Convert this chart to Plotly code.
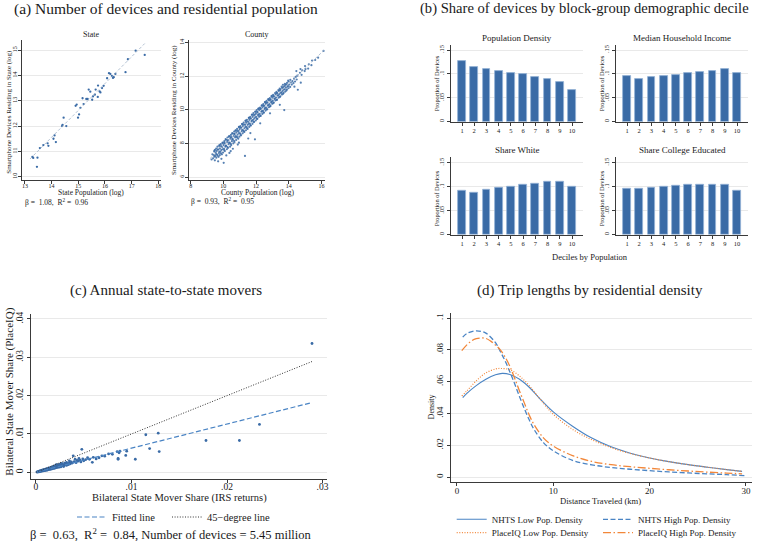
import plotly.graph_objects as go

W, H = 760, 541
SERIF = "Liberation Serif"
AXC = "#3a3a3a"
GRID = "#e9e9e9"
BLUE = "#3a6ba6"
LBLUE = "#4a84c4"
ORANGE = "#f2873a"
TXT = "#1a1a1a"

# ---------------- data ----------------
# (a) state: log population vs log devices
state_points = [
    (13.28, 10.78), (13.31, 10.74), (13.47, 10.75), (13.45, 10.39), (13.56, 11.13),
    (13.69, 11.25), (13.85, 11.32), (13.88, 11.22), (14.07, 11.50), (14.11, 11.63),
    (14.16, 11.37), (14.39, 12.00), (14.41, 12.05), (14.45, 12.33), (14.55, 12.00),
    (14.90, 12.80), (14.94, 12.85), (14.99, 12.33), (15.03, 12.46), (15.08, 12.72),
    (15.16, 13.10), (15.20, 12.87), (15.30, 13.07), (15.35, 13.07), (15.39, 13.44),
    (15.45, 13.36), (15.52, 13.04), (15.55, 13.17), (15.62, 13.24), (15.65, 13.44),
    (15.73, 13.15), (15.74, 13.60), (15.80, 13.37), (15.83, 13.33), (15.89, 13.50),
    (15.95, 13.59), (16.08, 13.89), (16.15, 14.09), (16.20, 14.06), (16.26, 13.98),
    (16.33, 13.93), (16.39, 14.06), (16.30, 13.90), (16.77, 14.13), (16.86, 14.64),
    (17.15, 14.98), (17.49, 14.81),
]
state_fit_x = [13.19, 17.49]
state_fit_y = [10.70, 15.26]

# (a) county: log population vs log devices
county_points = [
    (9.28, 7.05), (9.33, 7.36), (9.37, 7.12), (9.42, 7.31), (9.44, 7.53),
    (9.48, 7.00), (9.51, 7.26), (9.53, 7.46), (9.49, 7.63), (9.57, 7.16),
    (9.62, 7.34), (9.59, 7.56), (9.64, 7.81), (9.68, 6.94), (9.71, 7.21),
    (9.73, 7.43), (9.69, 7.63), (9.75, 7.86), (9.78, 7.31), (9.82, 7.51),
    (9.79, 7.71), (9.84, 7.96), (9.88, 7.09), (9.91, 7.36), (9.87, 7.61),
    (9.93, 7.79), (9.95, 8.06), (10.02, 6.85), (9.98, 7.46), (10.04, 7.69),
    (10.01, 7.91), (10.06, 8.14), (10.09, 7.55), (10.12, 7.81), (10.08, 8.01),
    (10.14, 8.26), (10.18, 7.29), (10.21, 7.66), (10.17, 7.86), (10.23, 8.09),
    (10.25, 8.36), (10.28, 7.74), (10.32, 7.96), (10.29, 8.19), (10.34, 8.41),
    (10.37, 7.44), (10.41, 7.81), (10.39, 8.04), (10.43, 8.29), (10.46, 8.51),
    (10.48, 7.91), (10.52, 8.14), (10.49, 8.37), (10.54, 8.61), (10.58, 7.69),
    (10.61, 8.01), (10.57, 8.26), (10.63, 8.44), (10.66, 8.71), (10.68, 8.09),
    (10.72, 8.36), (10.69, 8.56), (10.74, 8.77), (10.78, 8.21), (10.82, 8.41),
    (10.79, 8.66), (10.84, 8.87), (10.88, 7.94), (10.91, 8.29), (10.87, 8.53),
    (10.93, 8.74), (10.95, 8.99), (10.98, 8.41), (11.02, 8.61), (10.99, 8.86),
    (11.04, 9.04), (11.08, 8.49), (11.12, 8.73), (11.09, 8.94), (11.14, 9.16),
    (11.18, 8.61), (11.22, 8.79), (11.19, 9.04), (11.24, 9.24), (11.28, 8.69),
    (11.32, 7.26), (11.29, 8.91), (11.33, 9.11), (11.36, 9.36), (11.38, 8.79),
    (11.42, 8.99), (11.39, 9.23), (11.44, 9.41), (11.48, 8.87), (11.52, 8.30),
    (11.49, 9.11), (11.53, 9.29), (11.56, 9.53), (11.58, 8.99), (11.62, 9.19),
    (11.59, 9.41), (11.64, 9.59), (11.68, 9.07), (11.72, 9.31), (11.69, 9.49),
    (11.74, 9.71), (11.78, 9.17), (11.82, 9.41), (11.79, 9.59), (11.84, 9.81),
    (11.88, 9.29), (11.93, 8.25), (11.89, 9.49), (11.92, 9.71), (11.95, 9.89),
    (11.98, 9.37), (12.02, 9.59), (11.99, 9.77), (12.04, 9.99), (12.08, 9.47),
    (12.12, 9.69), (12.09, 9.87), (12.13, 10.06), (12.18, 9.59), (12.22, 9.77),
    (12.19, 9.99), (12.24, 10.14), (12.28, 9.64), (12.32, 9.89), (12.29, 10.07),
    (12.34, 10.26), (12.38, 9.76), (12.42, 9.94), (12.39, 10.16), (12.44, 10.34),
    (12.48, 9.84), (12.52, 10.06), (12.49, 10.24), (12.54, 10.46), (12.58, 9.96),
    (12.62, 10.14), (12.59, 10.36), (12.64, 10.54), (12.68, 10.04), (12.72, 10.26),
    (12.69, 10.44), (12.74, 10.63), (12.78, 10.16), (12.82, 10.34), (12.79, 10.56),
    (12.84, 10.71), (12.88, 10.24), (12.92, 10.46), (12.89, 10.61), (12.94, 10.81),
    (12.98, 10.36), (13.02, 10.54), (12.99, 10.73), (13.04, 10.89), (13.08, 10.44),
    (13.12, 10.66), (13.09, 10.81), (13.18, 10.56), (13.22, 10.74), (13.19, 10.93),
    (13.24, 11.07), (13.28, 10.61), (13.32, 10.86), (13.29, 11.01), (13.38, 10.73),
    (13.42, 10.94), (13.39, 11.13), (13.44, 11.27), (13.48, 10.81), (13.52, 11.01),
    (13.49, 11.23), (13.58, 10.91), (13.62, 11.13), (13.59, 11.31), (13.64, 11.49),
    (13.68, 11.01), (13.72, 9.99), (13.69, 11.21), (13.74, 11.41), (13.78, 11.09),
    (13.82, 11.33), (13.79, 11.49), (13.88, 11.21), (13.92, 11.39), (13.89, 11.61),
    (13.98, 11.29), (14.02, 11.51), (13.99, 11.69), (14.08, 11.37), (14.12, 11.63),
    (14.09, 11.79), (14.18, 11.51), (14.22, 11.71), (14.28, 11.59), (14.34, 11.38),
    (14.32, 11.86), (14.38, 11.69), (14.42, 11.96), (14.48, 11.81), (14.52, 12.04),
    (14.46, 12.31), (14.68, 12.21), (14.73, 11.62), (14.71, 12.43), (14.78, 12.09),
    (14.82, 12.36), (14.97, 12.31), (15.02, 12.43), (14.99, 12.61), (15.18, 12.46),
    (15.22, 12.71), (15.38, 12.66), (15.42, 12.94), (15.61, 12.97), (15.79, 13.11),
    (16.12, 13.51),
    (9.45, 7.22), (9.46, 7.58), (9.55, 7.38), (9.56, 7.70), (9.65, 7.28), (9.66, 7.66),
    (9.75, 7.52), (9.76, 7.91), (9.85, 7.42), (9.86, 7.84), (9.95, 7.66), (9.96, 8.02),
    (10.05, 7.61), (10.06, 8.05), (10.15, 7.88), (10.16, 8.22), (10.25, 7.79), (10.26, 8.19),
    (10.35, 8.06), (10.36, 8.44), (10.45, 7.98), (10.46, 8.38), (10.55, 8.25), (10.56, 8.60),
    (10.65, 8.16), (10.66, 8.57), (10.75, 8.44), (10.76, 8.79), (10.85, 8.35), (10.86, 8.75),
    (10.95, 8.62), (10.96, 8.98), (11.05, 8.53), (11.06, 8.95), (11.15, 8.81), (11.16, 9.16),
    (11.25, 8.72), (11.26, 9.12), (11.35, 8.99), (11.36, 9.35), (11.45, 8.91), (11.46, 9.31),
    (11.55, 9.18), (11.56, 9.53), (11.65, 9.09), (11.66, 9.50), (11.75, 9.37), (11.76, 9.72),
    (11.85, 9.28), (11.86, 9.69), (11.95, 9.56), (11.96, 9.90), (12.05, 9.47), (12.06, 9.87),
    (12.15, 9.74), (12.16, 10.09), (12.25, 9.66), (12.26, 10.06), (12.35, 9.93), (12.36, 10.27),
    (12.45, 9.84), (12.46, 10.24), (12.55, 10.12), (12.56, 10.46), (12.65, 10.03), (12.66, 10.43),
    (12.75, 10.30), (12.76, 10.64), (12.85, 10.21), (12.86, 10.61), (12.95, 10.49), (12.96, 10.83),
    (13.05, 10.40), (13.06, 10.80), (13.15, 10.67), (13.16, 11.00), (13.25, 10.59), (13.26, 10.99),
    (13.35, 10.86), (13.36, 11.18), (13.45, 10.77), (13.46, 11.17), (13.55, 11.05), (13.56, 11.38),
    (13.65, 10.96), (13.66, 11.36), (13.75, 11.23), (13.76, 11.55), (13.85, 11.15), (13.86, 11.52),
    (13.95, 11.42), (13.96, 11.74),
    (10.45, 7.55), (10.95, 8.05), (11.65, 8.62), (12.25, 9.20), (12.85, 9.80), (13.45, 10.30),
    (14.55, 11.20),
]
county_fit_x = [9.18, 16.15]
county_fit_y = [7.10, 13.55]

# (b) share of devices by decile
deciles = [1, 2, 3, 4, 5, 6, 7, 8, 9, 10]
density_share = [0.128, 0.1145, 0.110, 0.1067, 0.1025, 0.0998, 0.094, 0.090, 0.0824, 0.0657]
income_share = [0.095, 0.090, 0.093, 0.0956, 0.0983, 0.101, 0.104, 0.106, 0.1096, 0.101]
white_share = [0.091, 0.0883, 0.0945, 0.0973, 0.1008, 0.1035, 0.106, 0.110, 0.110, 0.1008]
college_share = [0.0967, 0.0952, 0.0987, 0.1008, 0.1029, 0.1035, 0.1042, 0.1049, 0.1035, 0.0925]

# (c) bilateral state mover shares (IRS, PlaceIQ)
mover_points = [
    (0.0001, 0.00005), (0.00015, 0.0001), (0.0002, 0.0001), (0.00025, 0.00015), (0.0003, 0.0002),
    (0.0003, 0.0001), (0.00035, 0.00025), (0.0004, 0.0002), (0.0004, 0.00035), (0.00045, 0.0003),
    (0.0005, 0.00025), (0.0005, 0.00045), (0.00055, 0.00035), (0.0006, 0.0003), (0.0006, 0.0005),
    (0.00065, 0.00045), (0.0007, 0.00035), (0.0007, 0.0006), (0.00075, 0.0005), (0.0008, 0.0004),
    (0.0008, 0.00065), (0.00085, 0.00055), (0.0009, 0.00045), (0.0009, 0.00075), (0.00095, 0.0006),
    (0.001, 0.0005), (0.001, 0.0008), (0.00105, 0.00065), (0.0011, 0.00055), (0.0011, 0.0009),
    (0.00115, 0.0007), (0.0012, 0.0006), (0.0012, 0.00095), (0.00125, 0.0008), (0.0013, 0.0007),
    (0.0013, 0.00105), (0.00135, 0.00085), (0.0014, 0.00075), (0.0014, 0.0011), (0.00145, 0.0009),
    (0.0015, 0.0008), (0.0015, 0.0012), (0.00155, 0.001), (0.0016, 0.00085), (0.0016, 0.0013),
    (0.00165, 0.00105), (0.0017, 0.0009), (0.0017, 0.0014), (0.00175, 0.0011), (0.0018, 0.001),
    (0.0018, 0.0015), (0.00185, 0.0012), (0.0019, 0.00105), (0.0019, 0.0016), (0.00195, 0.00125),
    (0.002, 0.0011), (0.002, 0.0017), (0.00205, 0.0013), (0.0021, 0.0012), (0.0021, 0.0019),
    (0.00215, 0.0014), (0.0022, 0.00125), (0.0022, 0.002), (0.0023, 0.00145), (0.0023, 0.0016),
    (0.0024, 0.0013), (0.0024, 0.0019), (0.0025, 0.0015), (0.0025, 0.0021), (0.0026, 0.0016),
    (0.0026, 0.0014), (0.0027, 0.0018), (0.0027, 0.0023), (0.0028, 0.0017), (0.0029, 0.002),
    (0.0029, 0.0015), (0.003, 0.0019), (0.003, 0.0024), (0.0031, 0.0021), (0.0032, 0.0018),
    (0.0032, 0.0026), (0.0033, 0.0022), (0.0034, 0.002), (0.0035, 0.0025), (0.0035, 0.003),
    (0.0036, 0.0022), (0.0037, 0.0027), (0.0038, 0.0024), (0.0039, 0.0043), (0.004, 0.0028),
    (0.0041, 0.0034), (0.0042, 0.0025), (0.0043, 0.0031), (0.0044, 0.0029), (0.0045, 0.0036),
    (0.0046, 0.0032), (0.0047, 0.0027), (0.0048, 0.006), (0.0049, 0.0035), (0.005, 0.003),
    (0.0052, 0.0033), (0.0054, 0.0038), (0.0056, 0.0034), (0.0059, 0.0026), (0.006, 0.0039),
    (0.0063, 0.0035), (0.0066, 0.0038), (0.0069, 0.0043), (0.0072, 0.0042), (0.0076, 0.0048),
    (0.008, 0.0047), (0.0085, 0.0054), (0.0086, 0.0036), (0.0087, 0.0051), (0.0088, 0.0055),
    (0.0086, 0.0034), (0.0094, 0.0044), (0.0095, 0.0055), (0.0104, 0.0034), (0.0115, 0.0098),
    (0.0119, 0.0062), (0.0128, 0.0102), (0.0129, 0.0054), (0.0178, 0.0083), (0.0213, 0.0083),
    (0.0234, 0.0125), (0.0289, 0.0336),
]
mover_fit_x = [0.0, 0.0289]
mover_fit_y = [0.0, 0.0182]
deg45_x = [0.0, 0.029]
deg45_y = [0.0, 0.029]

# (d) kernel densities of trip length (km)
nhts_low_x = [0.6, 1, 2, 3, 4, 4.7, 5.5, 6.5, 7.5, 8.5, 10, 12, 14, 16, 18, 20, 22, 24, 26, 28, 29.6]
nhts_low_y = [0.050, 0.0525, 0.0575, 0.0615, 0.0643, 0.0652, 0.0645, 0.0615, 0.0565, 0.050, 0.041,
              0.032, 0.0245, 0.019, 0.015, 0.012, 0.0097, 0.0078, 0.0062, 0.0047, 0.0036]
piq_low_x = [0.5, 1, 2, 3, 4, 4.5, 5.5, 6.5, 7.5, 8.5, 10, 12, 14, 16, 18, 20, 22, 24, 26, 28, 29.6]
piq_low_y = [0.051, 0.054, 0.0605, 0.0655, 0.068, 0.0683, 0.0675, 0.0635, 0.0575, 0.050, 0.0395,
             0.030, 0.0235, 0.0185, 0.0148, 0.012, 0.0097, 0.0078, 0.0062, 0.0047, 0.0036]
nhts_high_x = [0.6, 1, 2, 3, 4, 4.5, 5, 5.5, 6, 6.5, 7, 7.5, 8, 9, 10, 12, 14, 16, 18, 20, 22, 24, 26, 28, 30]
nhts_high_y = [0.088, 0.0902, 0.092, 0.0905, 0.0845, 0.079, 0.073, 0.066, 0.0585, 0.0505, 0.043, 0.036,
               0.030, 0.0215, 0.0165, 0.0105, 0.0077, 0.006, 0.0049, 0.004, 0.0032, 0.0026, 0.002, 0.0015, 0.0009]
piq_high_x = [0.5, 1, 1.5, 2, 2.5, 3, 3.5, 4, 4.5, 5, 5.5, 6, 6.5, 7, 7.5, 8, 9, 10, 12, 14, 16, 18,
              20, 22, 24, 26, 28, 29.6]
piq_high_y = [0.0795, 0.083, 0.0856, 0.087, 0.0875, 0.0872, 0.0855, 0.083, 0.080, 0.0755, 0.0695, 0.062,
              0.054, 0.0465, 0.039, 0.033, 0.0245, 0.0195, 0.0135, 0.0098, 0.0078, 0.0065, 0.0055, 0.0046,
              0.0038, 0.0031, 0.0025, 0.002]


# ---------------- helpers ----------------
def fx(p):
    return p / W


def fy(p):
    return 1 - p / H


def xdom(a, b):
    return [a / W, b / W]


def ydom(top, bottom):
    return [1 - bottom / H, 1 - top / H]


def axis(domain, rng, anchor, tickvals, ticktext, size, angle=0, grid=False, standoff=0):
    return dict(domain=domain, range=rng, anchor=anchor, showline=True, linecolor=AXC, linewidth=1,
                ticks="outside", ticklen=3, tickwidth=1, tickcolor=AXC, tickvals=tickvals,
                ticktext=ticktext, tickfont=dict(family=SERIF, size=size, color=TXT), tickangle=angle,
                showgrid=grid, gridcolor=GRID, gridwidth=1, zeroline=False, fixedrange=True,
                ticklabelstandoff=standoff)


fig = go.Figure()

# (a) state
fig.add_trace(go.Scatter(x=[p[0] for p in state_points], y=[p[1] for p in state_points],
                         xaxis="x", yaxis="y", mode="markers", showlegend=False,
                         marker=dict(size=2.3, color=BLUE)))
fig.add_trace(go.Scatter(x=state_fit_x, y=state_fit_y, xaxis="x", yaxis="y", mode="lines",
                         showlegend=False, line=dict(color="#9fb1c6", width=0.8, dash="3px,2px")))
# (a) county
fig.add_trace(go.Scatter(x=[p[0] for p in county_points], y=[p[1] for p in county_points],
                         xaxis="x2", yaxis="y2", mode="markers", showlegend=False,
                         marker=dict(size=2.2, color=BLUE, opacity=0.85)))
fig.add_trace(go.Scatter(x=county_fit_x, y=county_fit_y, xaxis="x2", yaxis="y2", mode="lines",
                         showlegend=False, line=dict(color="#9fb1c6", width=0.8, dash="3px,2px")))

# (b) bars
for vals, xa, ya in [(density_share, "x3", "y3"), (income_share, "x4", "y4"),
                     (white_share, "x5", "y5"), (college_share, "x6", "y6")]:
    fig.add_trace(go.Bar(x=deciles, y=vals, xaxis=xa, yaxis=ya, width=0.63, showlegend=False,
                         marker=dict(color=BLUE, line=dict(color="#94b2d6", width=0.8))))

# (c)
fig.add_trace(go.Scatter(x=[p[0] for p in mover_points], y=[p[1] for p in mover_points],
                         xaxis="x7", yaxis="y7", mode="markers", showlegend=False,
                         marker=dict(size=2.8, color=BLUE)))
fig.add_trace(go.Scatter(x=mover_fit_x, y=mover_fit_y, xaxis="x7", yaxis="y7", mode="lines",
                         name="Fitted line", legend="legend",
                         line=dict(color=LBLUE, width=1.2, dash="5px,2.5px")))
fig.add_trace(go.Scatter(x=deg45_x, y=deg45_y, xaxis="x7", yaxis="y7", mode="lines",
                         name="45\u2212degree line", legend="legend2",
                         line=dict(color="#333333", width=1, dash="1px,1.6px")))

# (d)
fig.add_trace(go.Scatter(x=nhts_low_x, y=nhts_low_y, xaxis="x8", yaxis="y8", mode="lines",
                         name="NHTS Low Pop. Density", legend="legend3", line_shape="spline",
                         line=dict(color=LBLUE, width=1.1)))
fig.add_trace(go.Scatter(x=nhts_high_x, y=nhts_high_y, xaxis="x8", yaxis="y8", mode="lines",
                         name="NHTS High Pop. Density", legend="legend4", line_shape="spline",
                         line=dict(color=LBLUE, width=1.3, dash="5px,2.5px")))
fig.add_trace(go.Scatter(x=piq_low_x, y=piq_low_y, xaxis="x8", yaxis="y8", mode="lines",
                         name="PlaceIQ Low Pop. Density", legend="legend5", line_shape="spline",
                         line=dict(color=ORANGE, width=1.2, dash="1px,1.6px")))
fig.add_trace(go.Scatter(x=piq_high_x, y=piq_high_y, xaxis="x8", yaxis="y8", mode="lines",
                         name="PlaceIQ High Pop. Density", legend="legend6", line_shape="spline",
                         line=dict(color=ORANGE, width=1.3, dash="8px,2.5px,1.5px,2.5px")))

bar_tv = [0, 0.05, 0.1, 0.15]
bar_tt = ["0", ".05", ".1", ".15"]

layout = dict(
    width=W, height=H, margin=dict(l=0, r=0, t=0, b=0, pad=0, autoexpand=False),
    paper_bgcolor="white", plot_bgcolor="white", showlegend=True, bargap=0,
    font=dict(family=SERIF, color=TXT),
    # (a) state
    xaxis=axis(xdom(22, 161), [12.89, 18.1], "y", [13, 14, 15, 16, 17, 18],
               ["13", "14", "15", "16", "17", "18"], 6, standoff=-3),
    yaxis=axis(ydom(40, 180), [9.87, 15.4], "x", [10, 11, 12, 13, 14, 15],
               ["10", "11", "12", "13", "14", "15"], 6, -90, True, -1),
    # (a) county
    xaxis2=axis(xdom(189, 325), [7.9, 16.21], "y2", [8, 10, 12, 14, 16],
                ["8", "10", "12", "14", "16"], 6, standoff=-3),
    yaxis2=axis(ydom(40, 180), [5.83, 14.16], "x2", [6, 8, 10, 12, 14],
                ["6", "8", "10", "12", "14"], 6, -90, True, -1),
    # (b)
    xaxis3=axis(xdom(451, 583), [0.1, 10.9], "y3", deciles, [str(d) for d in deciles], 6.5, standoff=-1),
    yaxis3=axis(ydom(45, 121.7), [0, 0.1605], "x3", bar_tv, bar_tt, 6.5, -90, True),
    xaxis4=axis(xdom(616, 748), [0.1, 10.9], "y4", deciles, [str(d) for d in deciles], 6.5, standoff=-1),
    yaxis4=axis(ydom(45, 121.7), [0, 0.1605], "x4", bar_tv, bar_tt, 6.5, -90, True),
    xaxis5=axis(xdom(451, 583), [0.1, 10.9], "y5", deciles, [str(d) for d in deciles], 6.5, standoff=-1),
    yaxis5=axis(ydom(156.7, 234.7), [0, 0.1625], "x5", bar_tv, bar_tt, 6.5, -90, True),
    xaxis6=axis(xdom(616, 748), [0.1, 10.9], "y6", deciles, [str(d) for d in deciles], 6.5, standoff=-1),
    yaxis6=axis(ydom(156.7, 234.7), [0, 0.1625], "x6", bar_tv, bar_tt, 6.5, -90, True),
    # (c)
    xaxis7=axis(xdom(31, 327.3), [-0.00052, 0.0305], "y7", [0, 0.01, 0.02, 0.03],
                ["0", ".01", ".02", ".03"], 9.5, standoff=-4),
    yaxis7=axis(ydom(314, 479), [-0.00175, 0.0413], "x7", [0, 0.01, 0.02, 0.03, 0.04],
                ["0", ".01", ".02", ".03", ".04"], 9.5, -90, True),
    # (d)
    xaxis8=axis(xdom(451, 751.7), [-0.62, 30.6], "y8", [0, 10, 20, 30],
                ["0", "10", "20", "30"], 9, standoff=-3),
    yaxis8=axis(ydom(313.3, 482.3), [-0.0033, 0.103], "x8", [0, 0.02, 0.04, 0.06, 0.08, 0.1],
                ["0", ".02", ".04", ".06", ".08", ".1"], 9, -90, True),
)


def leg(x_line_start, y_mid, size):
    return dict(x=fx(x_line_start - 7), y=fy(y_mid), xanchor="left", yanchor="middle",
                orientation="h", font=dict(family=SERIF, size=size, color=TXT),
                bgcolor="rgba(0,0,0,0)", borderwidth=0, itemwidth=30)


layout["legend"] = leg(79, 517, 10.5)
layout["legend2"] = leg(174, 517, 10.5)
layout["legend3"] = leg(458.7, 519.3, 9)
layout["legend4"] = leg(605, 519.3, 9)
layout["legend5"] = leg(458.7, 532.7, 9)
layout["legend6"] = leg(605, 532.7, 9)

fig.update_layout(**layout)


def note(text, x, y, size, anchor="center", angle=0):
    fig.add_annotation(text=text, x=fx(x), y=fy(y), xref="paper", yref="paper", showarrow=False,
                       xanchor=anchor, yanchor="middle", textangle=angle,
                       font=dict(family=SERIF, size=size, color=TXT))


# panel titles
note("(a) Number of devices and residential population", 166, 9, 15.5)
note("(b) Share of devices by block-group demographic decile", 418, 9, 14.6, "left")
note("(c) Annual state-to-state movers", 166, 290, 15)
note("(d) Trip lengths by residential density", 589.5, 290, 15)

# (a) texts
note("State", 90.7, 34, 8)
note("County", 256.7, 34, 8)
note("State Population (log)", 90.7, 192, 7.5)
note("County Population (log)", 257, 192, 7.5)
note("Smartphone Devices Residing in State (log)", 9, 111.7, 7, angle=-90)
note("Smartphone Devices Residing in County (log)", 174, 110, 7, angle=-90)
note("\u03b2 =  1.08,  R<sup>2</sup> =  0.96", 22.7, 201.7, 7.5, "left")
note("\u03b2 =  0.93,  R<sup>2</sup> =  0.95", 189, 201, 7.5, "left")

# (b) texts
note("Population Density", 516.7, 37.7, 9)
note("Median Household Income", 682, 37.7, 9)
note("Share White", 517, 150.3, 9)
note("Share College Educated", 682, 150.3, 9)
for xx, yy in [(436, 83.3), (601, 83.3), (436, 198.3), (601, 198.3)]:
    note("Proportion of Devices", xx, yy, 6.3, angle=-90)
note("Deciles by Population", 590, 256.7, 8.5)

# (c) texts
note("Bilateral State Mover Share (PlaceIQ)", 10, 391.7, 11, angle=-90)
note("Bilateral State Mover Share (IRS returns)", 179.5, 498, 10.5)
note("\u03b2 =  0.63,  R<sup>2</sup> =  0.84, Number of devices = 5.45 million", 28, 534, 12.5, "left")

# (d) texts
note("Density", 431.7, 406.7, 8, angle=-90)
note("Distance Traveled (km)", 600.8, 500.5, 8.6)

fig.write_html("out.html", config={"displayModeBar": False},
               post_script="document.body.style.margin='0px';")
